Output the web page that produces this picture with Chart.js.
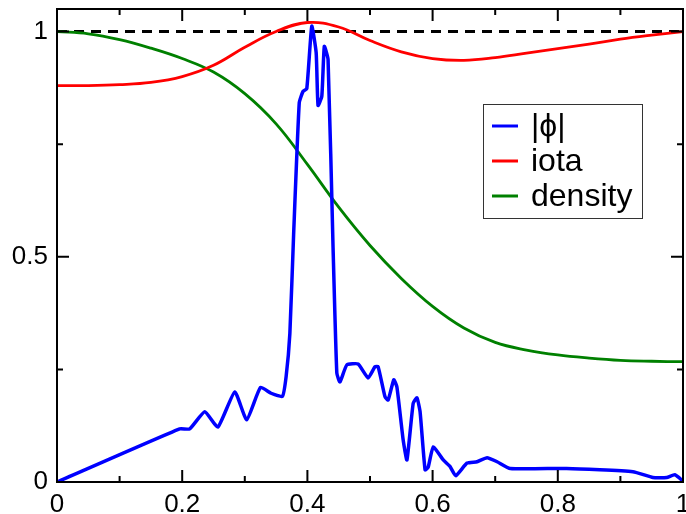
<!DOCTYPE html>
<html>
<head>
<meta charset="utf-8">
<script src="https://cdn.jsdelivr.net/npm/chart.js@4"></script>
<style>
  html, body { margin: 0; padding: 0; background: #fff; }
  #wrap { width: 686px; height: 514px; }
</style>
</head>
<body>
<div id="wrap"><canvas id="chart" width="686" height="514"></canvas></div>
<script>
const phiX = [0, 0.196, 0.212, 0.236, 0.257, 0.284, 0.303, 0.325, 0.342, 0.36, 0.366, 0.372, 0.378,
    0.387, 0.393, 0.399, 0.407, 0.414, 0.417, 0.423, 0.427, 0.433, 0.441, 0.447, 0.452, 0.463,
    0.481, 0.497, 0.508, 0.513, 0.524, 0.529, 0.538, 0.543, 0.553, 0.559, 0.569, 0.575, 0.58,
    0.588, 0.593, 0.601, 0.617, 0.628, 0.637, 0.655, 0.671, 0.687, 0.703, 0.724, 0.814, 0.92,
    0.952, 0.974, 0.987, 1.0];
const phiY = [0, 0.118, 0.118, 0.156, 0.122, 0.2, 0.138, 0.21, 0.197, 0.19, 0.234, 0.33, 0.55,
    0.842, 0.867, 0.873, 1.012, 0.953, 0.836, 0.856, 0.967, 0.938, 0.52, 0.242, 0.222, 0.26,
    0.262, 0.231, 0.256, 0.256, 0.189, 0.182, 0.227, 0.211, 0.093, 0.049, 0.175, 0.187, 0.156,
    0.027, 0.033, 0.078, 0.049, 0.034, 0.014, 0.042, 0.045, 0.054, 0.045, 0.03, 0.03, 0.023,
    0.01, 0.01, 0.016, 0.002];

const profX = [0, 0.05, 0.1, 0.15, 0.2, 0.25, 0.3, 0.35, 0.4, 0.45, 0.5, 0.55, 0.6, 0.65, 0.7,
    0.75, 0.8, 0.85, 0.9, 0.95, 1.0];
const iotaY = [0.88, 0.88, 0.882, 0.887, 0.9, 0.925, 0.965, 1.0, 1.02, 1.01, 0.98, 0.955, 0.94,
    0.936, 0.942, 0.952, 0.962, 0.972, 0.983, 0.992, 1.0];
const densityY = [1.0, 0.995, 0.982, 0.963, 0.94, 0.91, 0.862, 0.795, 0.705, 0.61, 0.525, 0.452,
    0.39, 0.342, 0.31, 0.293, 0.282, 0.275, 0.27, 0.268, 0.267];

const refX = [0, 1];
const refY = [1, 1];

const xTicks = [0, 0.2, 0.4, 0.6, 0.8, 1];
const xMinor = [0.1, 0.3, 0.5, 0.7, 0.9];
const yTicks = [0, 0.5, 1];
const yMinor = [0.25, 0.75];

const pts = (xs, ys) => xs.map((x, i) => ({ x: x, y: ys[i] }));

// frame, inward ticks and the legend box
const framePlugin = {
    id: 'frame',
    afterDraw(chart) {
        const ctx = chart.ctx;
        const a = chart.chartArea;
        const xs = chart.scales.x, ys = chart.scales.y;
        ctx.save();
        ctx.strokeStyle = '#000';
        ctx.lineWidth = 2;
        ctx.strokeRect(a.left, a.top, a.right - a.left, a.bottom - a.top);
        ctx.beginPath();
        const tick = (vals, len) => {
            vals.forEach(v => {
                const px = xs.getPixelForValue(v);
                ctx.moveTo(px, a.bottom); ctx.lineTo(px, a.bottom - len);
                ctx.moveTo(px, a.top); ctx.lineTo(px, a.top + len);
            });
        };
        const tickY = (vals, len) => {
            vals.forEach(v => {
                const py = ys.getPixelForValue(v);
                ctx.moveTo(a.left, py); ctx.lineTo(a.left + len, py);
                ctx.moveTo(a.right, py); ctx.lineTo(a.right - len, py);
            });
        };
        tick(xTicks, 12); tick(xMinor, 6);
        tickY(yTicks, 12); tickY(yMinor, 6);
        ctx.stroke();

        // legend
        const lx = 483, ly = 104, lw = 159, lh = 114;
        ctx.fillStyle = '#fff';
        ctx.fillRect(lx, ly, lw, lh);
        ctx.lineWidth = 1;
        ctx.strokeStyle = '#333';
        ctx.strokeRect(lx + 0.5, ly + 0.5, lw, lh);
        ctx.font = '32px "Liberation Sans", Arial, sans-serif';
        ctx.textBaseline = 'middle';
        const items = chart.data.datasets.filter(d => d.label);
        items.forEach((d, i) => {
            const y = 126 + i * 35;
            ctx.strokeStyle = d.borderColor;
            ctx.lineWidth = 3;
            ctx.beginPath();
            ctx.moveTo(492, y); ctx.lineTo(518, y);
            ctx.stroke();
            ctx.fillStyle = '#000';
            ctx.fillText(d.label, 531, y + 1);
        });
        ctx.restore();
    }
};

new Chart(document.getElementById('chart'), {
    type: 'line',
    data: {
        datasets: [{
            label: '|\u03d5|',
            data: pts(phiX, phiY),
            borderColor: '#0000ff',
            borderWidth: 3.5,
            tension: 0.15,
            pointRadius: 0
        }, {
            label: 'iota',
            data: pts(profX, iotaY),
            borderColor: '#ff0000',
            borderWidth: 2.8,
            tension: 0.4,
            pointRadius: 0
        }, {
            label: 'density',
            data: pts(profX, densityY),
            borderColor: '#008000',
            borderWidth: 2.8,
            tension: 0.4,
            pointRadius: 0
        }, {
            label: '',
            data: pts(refX, refY),
            borderColor: '#000',
            borderWidth: 3,
            borderDash: [10, 7],
            pointRadius: 0
        }]
    },
    options: {
        responsive: false,
        animation: false,
        layout: { padding: { top: 9, right: 3, left: 0, bottom: 0 } },
        plugins: {
            legend: { display: false },
            tooltip: { enabled: false }
        },
        scales: {
            x: {
                type: 'linear',
                min: 0,
                max: 1,
                afterBuildTicks: s => { s.ticks = xTicks.map(v => ({ value: v })); },
                afterFit: s => { s.height = 32; s.paddingLeft = 0; s.paddingRight = 0; },
                grid: { display: false },
                border: { display: false },
                ticks: {
                    color: '#000',
                    padding: -1,
                    maxRotation: 0,
                    autoSkip: false,
                    font: { family: '"Liberation Sans", Arial, sans-serif', size: 26 },
                    callback: v => String(v)
                }
            },
            y: {
                min: 0,
                max: 1.05,
                afterBuildTicks: s => { s.ticks = yTicks.map(v => ({ value: v })); },
                afterFit: s => { s.width = 57; s.paddingTop = 0; s.paddingBottom = 0; },
                grid: { display: false },
                border: { display: false },
                ticks: {
                    color: '#000',
                    padding: 1,
                    autoSkip: false,
                    font: { family: '"Liberation Sans", Arial, sans-serif', size: 26 },
                    callback: v => String(v)
                }
            }
        }
    },
    plugins: [framePlugin]
});
</script>
</body>
</html>
